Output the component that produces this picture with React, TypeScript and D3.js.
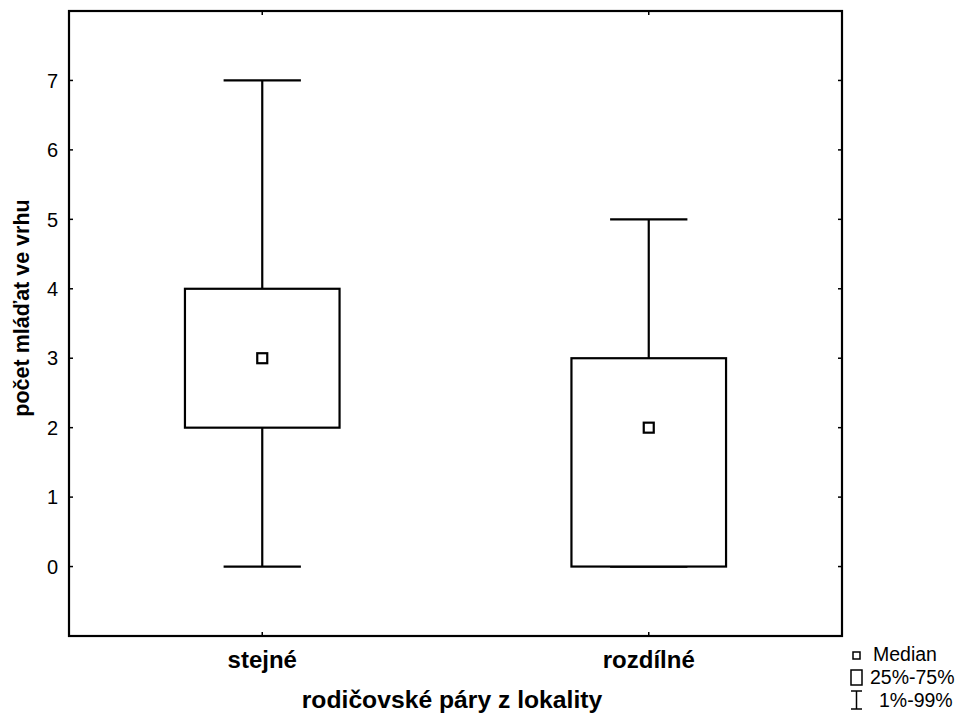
import React from "react";
import * as d3 from "d3";

const categories = ["stejné", "rozdílné"];
const whiskerLow = [0, 0];
const q1 = [2, 0];
const medians = [3, 2];
const q3 = [4, 3];
const whiskerHigh = [7, 5];
const yTicks = [0, 1, 2, 3, 4, 5, 6, 7];
const legendLabels = ["Median", "25%-75%", "1%-99%"];

const W = 964;
const H = 715;
const left = 69;
const right = 842;
const top = 11;
const bottom = 636;
const font = "'Liberation Sans', Arial, Helvetica, sans-serif";

export default function App() {
  const x = d3.scalePoint<string>().domain(categories).range([left, right]).padding(0.5);
  const y = d3.scaleLinear().domain([-1, 8]).range([bottom, top]);
  const step = x.step();
  const boxW = step * 0.4;
  const capW = boxW / 2;

  return (
    <svg
      width={W}
      height={H}
      style={{ position: "absolute", left: 0, top: 0, background: "#fff" }}
      fontFamily={font}
    >
      <rect x={0} y={0} width={W} height={H} fill="#fff" />
      {/* boxes */}
      {categories.map((c, i) => {
        const cx = x(c)!;
        return (
          <g key={c} stroke="#000" strokeWidth={2.2} fill="none">
            <line x1={cx} x2={cx} y1={y(q3[i])} y2={y(whiskerHigh[i])} />
            <line x1={cx} x2={cx} y1={y(q1[i])} y2={y(whiskerLow[i])} />
            <line x1={cx - capW / 2} x2={cx + capW / 2} y1={y(whiskerHigh[i])} y2={y(whiskerHigh[i])} />
            <line x1={cx - capW / 2} x2={cx + capW / 2} y1={y(whiskerLow[i])} y2={y(whiskerLow[i])} />
            <rect x={cx - boxW / 2} y={y(q3[i])} width={boxW} height={y(q1[i]) - y(q3[i])} fill="#fff" />
            <rect x={cx - 5} y={y(medians[i]) - 5} width={10} height={10} fill="#fff" />
          </g>
        );
      })}
      {/* frame */}
      <rect x={left} y={top} width={right - left} height={bottom - top} fill="none" stroke="#000" strokeWidth={2.2} />
      {/* y ticks */}
      {yTicks.map((t) => (
        <g key={t}>
          <line x1={left} x2={left + 4} y1={y(t)} y2={y(t)} stroke="#000" strokeWidth={1.5} />
          <line x1={right - 4} x2={right} y1={y(t)} y2={y(t)} stroke="#000" strokeWidth={1.5} />
          <text x={58} y={y(t)} dy="0.36em" textAnchor="end" fontSize={20} fill="#000">
            {t}
          </text>
        </g>
      ))}
      {/* x ticks */}
      {categories.map((c) => (
        <g key={c}>
          <line x1={x(c)!} x2={x(c)!} y1={bottom} y2={bottom - 4} stroke="#000" strokeWidth={1.5} />
          <line x1={x(c)!} x2={x(c)!} y1={top} y2={top + 4} stroke="#000" strokeWidth={1.5} />
          <text x={x(c)!} y={668} textAnchor="middle" fontSize={24} fontWeight="bold" fill="#000">
            {c}
          </text>
        </g>
      ))}
      {/* axis titles */}
      <text x={452} y={708} textAnchor="middle" fontSize={24.7} fontWeight="bold" fill="#000">
        rodičovské páry z lokality
      </text>
      <text
        transform={`translate(29, 308) rotate(-90)`}
        textAnchor="middle"
        fontSize={21.5}
        fontWeight="bold"
        fill="#000"
      >
        počet mláďat ve vrhu
      </text>
      {/* legend */}
      <g stroke="#000" strokeWidth={1.5} fill="none">
        <rect x={853} y={652} width={7} height={7} />
        <rect x={851} y={670} width={11} height={15} />
        <line x1={856.5} x2={856.5} y1={691} y2={709} />
        <line x1={851} x2={862} y1={691} y2={691} />
        <line x1={851} x2={862} y1={709} y2={709} />
      </g>
      <text x={873} y={661} fontSize={19.5} fill="#000">{legendLabels[0]}</text>
      <text x={870} y={684} fontSize={19.5} fill="#000">{legendLabels[1]}</text>
      <text x={879} y={707} fontSize={19.5} fill="#000">{legendLabels[2]}</text>
    </svg>
  );
}
